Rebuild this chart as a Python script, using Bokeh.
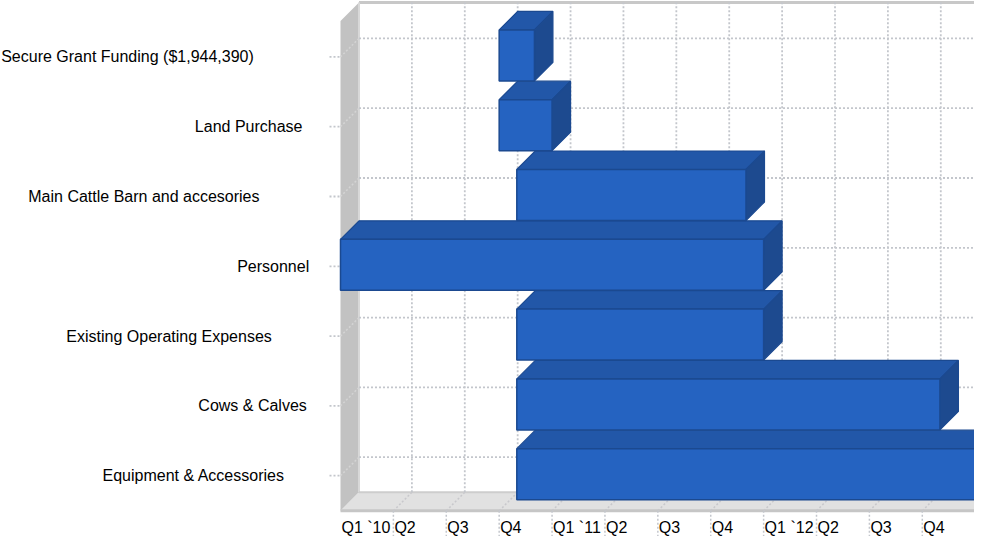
from bokeh.plotting import figure
from bokeh.models import Range1d
from bokeh.core.properties import value
from bokeh.embed import file_html
from bokeh.resources import INLINE

# ---------------- data ----------------
categories = [
    "Secure Grant Funding ($1,944,390)",
    "Land Purchase",
    "Main Cattle Barn and accesories",
    "Personnel",
    "Existing Operating Expenses",
    "Cows & Calves",
    "Equipment & Accessories",
]
# months counted from the start of Q1 2010
start_month = [9, 9, 10, 0, 10, 10, 10]
end_month = [11, 12, 23, 24, 24, 34, 36]

quarter_labels = ["Q1 `10", "Q2", "Q3", "Q4",
                  "Q1 `11", "Q2", "Q3", "Q4",
                  "Q1 `12", "Q2", "Q3", "Q4"]
quarter_months = [0, 3, 6, 9, 12, 15, 18, 21, 24, 27, 30, 33]
axis_end_month = 36

# ---------------- layout (page pixels, figure placed at 8,8) ----------------
W, H = 974, 536
MARGIN = 8
MONTH_PX = 17.63          # pixels per month on the front plane
ROW_PX = 69.8             # pixels per category row
ORIGIN_PAGE_X = 348.0     # page x of month 0 (front plane)
ROW0_PAGE_Y = 481.7       # page y of the lowest bar centre

x0 = -(ORIGIN_PAGE_X - MARGIN) / MONTH_PX
x1 = x0 + W / MONTH_PX
y0 = -(H - (ROW0_PAGE_Y - MARGIN)) / ROW_PX
y1 = y0 + H / ROW_PX


def xpage(px):
    return x0 + (px - MARGIN) / MONTH_PX


def ypage(py):
    return y0 + (H - (py - MARGIN)) / ROW_PX


DEPTH_PX = 18.5
DX = DEPTH_PX / MONTH_PX
DY = DEPTH_PX / ROW_PX
HALF = 25.5 / ROW_PX
FLOOR = ypage(518.3)
TOP = ypage(28.5)
TICK_OFF = 1.5 / ROW_PX
label_right_page = [261.3, 310.0, 267.0, 316.7, 279.3, 314.3, 292.3]
QLABEL_Y = ypage(535.0)

n = len(categories)
rows = [n - 1 - k for k in range(n)]

FRONT = "#2563C1"
TOPC = "#2257A8"
SIDE = "#1D4A8F"
EDGE = "#1B4990"
GRID = "#C3C6CC"

p = figure(width=W, height=H, x_range=Range1d(x0, x1), y_range=Range1d(y0, y1),
           x_axis_type=None, y_axis_type=None, toolbar_location=None,
           output_backend="svg", min_border=0)
p.outline_line_color = None
p.background_fill_color = "white"
p.border_fill_color = "white"

# back wall
p.quad(left=[DX], right=[axis_end_month + DX + 2], bottom=[FLOOR + DY], top=[TOP + DY],
       fill_color="white", line_color=None)
p.line([DX, axis_end_month + DX + 2], [TOP + DY, TOP + DY], line_color="#C8C8C8", line_width=3)

# left wall
p.patch([0, 0, DX, DX], [FLOOR, TOP, TOP + DY, FLOOR + DY], fill_color="#C2C2C2", line_color=None)
p.line([DX, DX], [FLOOR + DY, TOP + DY], line_color="#D8D8D8", line_width=2)

# floor
p.patch([0, axis_end_month, axis_end_month + DX, DX], [FLOOR, FLOOR, FLOOR + DY, FLOOR + DY],
        fill_color="#E1E1E1", line_color=None)
p.line([DX, axis_end_month + DX], [FLOOR + DY, FLOOR + DY], line_color="#CDCDCD", line_width=2)
p.line([0, axis_end_month, axis_end_month + DX], [FLOOR, FLOOR, FLOOR + DY],
       line_color="#C6C6C6", line_width=3)

# gridlines on back wall
gx = [[m + DX, m + DX] for m in quarter_months[1:] + [axis_end_month]]
gy = [[FLOOR + DY, TOP + DY] for _ in gx]
p.multi_line(gx, gy, line_color=GRID, line_width=1.8, line_dash="2 2")
hx = [[DX, axis_end_month + DX + 2] for _ in rows]
hy = [[r - TICK_OFF + DY, r - TICK_OFF + DY] for r in rows]
p.multi_line(hx, hy, line_color=GRID, line_width=1.8, line_dash="2 2")

# floor diagonals and front ticks
fx = [[m + DX, m] for m in quarter_months[1:]]
fy = [[FLOOR + DY, FLOOR] for _ in fx]
p.multi_line(fx, fy, line_color="#C8C8CC", line_width=1.5, line_dash="2 2")
tx = [[m, m] for m in quarter_months[1:]]
ty = [[FLOOR, y0] for _ in tx]
p.multi_line(tx, ty, line_color=GRID, line_width=1.5, line_dash="2 2")

# left wall diagonals and small category ticks
lx = [[0, DX] for _ in rows]
ly = [[r - TICK_OFF, r - TICK_OFF + DY] for r in rows]
p.multi_line(lx, ly, line_color="#D4D4D4", line_width=1.5, line_dash="2 2")
sx = [[-11 / MONTH_PX, -1 / MONTH_PX] for _ in rows]
sy = [[r - TICK_OFF, r - TICK_OFF] for r in rows]
p.multi_line(sx, sy, line_color=GRID, line_width=1.8, line_dash="2 2")

# 3D bars (lowest first so upper ones overlap)
order = sorted(range(n), key=lambda k: rows[k])
for k in order:
    s, e, c = start_month[k], end_month[k], rows[k]
    p.patch([s, e, e + DX, s + DX], [c + HALF, c + HALF, c + HALF + DY, c + HALF + DY],
            fill_color=TOPC, line_color=EDGE, line_width=1.2)
    p.patch([e, e + DX, e + DX, e], [c - HALF, c - HALF + DY, c + HALF + DY, c + HALF],
            fill_color=SIDE, line_color=EDGE, line_width=1.2)
    p.quad(left=[s], right=[e], bottom=[c - HALF], top=[c + HALF],
           fill_color=FRONT, line_color=EDGE, line_width=1.5)

# category labels
p.text(x=[xpage(px) for px in label_right_page], y=[r - TICK_OFF for r in rows],
       text=categories, text_align="right", text_baseline="middle",
       text_font=value("Liberation Sans"), text_font_size="16px", text_color="#000000")

# quarter labels
p.text(x=[m + 1 / MONTH_PX for m in quarter_months], y=[QLABEL_Y] * len(quarter_months),
       text=quarter_labels, text_align="left", text_baseline="middle",
       text_font=value("Liberation Sans"), text_font_size="16px", text_color="#000000")

open("out.html", "w").write(file_html(p, INLINE))
